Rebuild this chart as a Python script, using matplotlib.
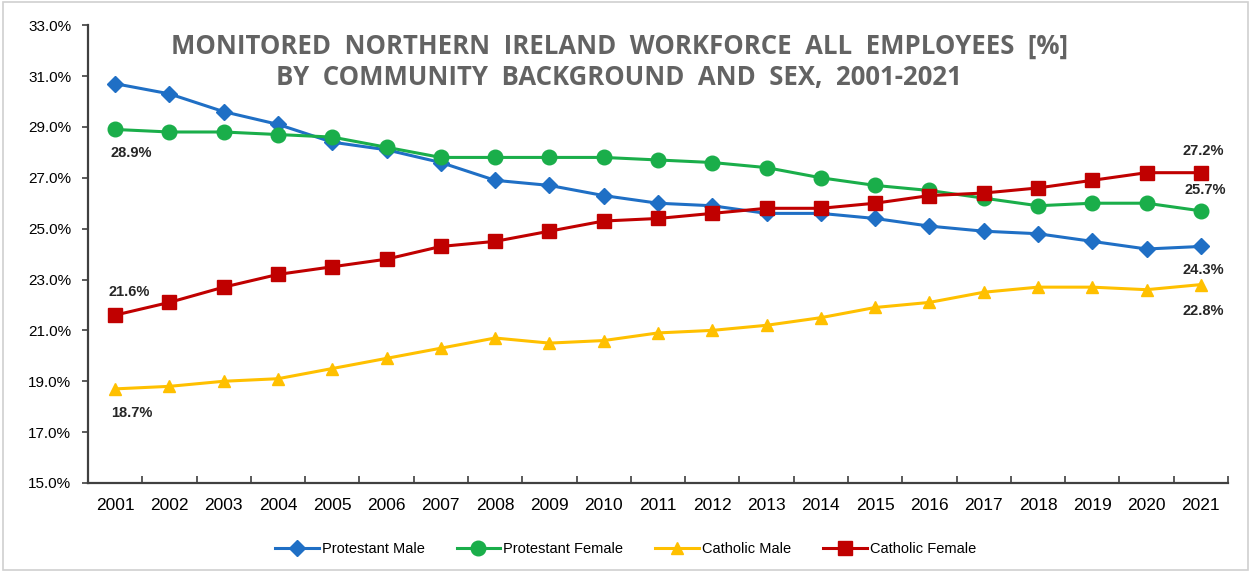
import matplotlib.pyplot as plt
import matplotlib.patches as patches
import numpy as np

years = list(range(2001, 2022))
protestant_male = [30.7, 30.3, 29.6, 29.1, 28.4, 28.1, 27.6, 26.9, 26.7, 26.3, 26.0,
                   25.9, 25.6, 25.6, 25.4, 25.1, 24.9, 24.8, 24.5, 24.2, 24.3]
protestant_female = [28.9, 28.8, 28.8, 28.7, 28.6, 28.2, 27.8, 27.8, 27.8, 27.8, 27.7,
                     27.6, 27.4, 27.0, 26.7, 26.5, 26.2, 25.9, 26.0, 26.0, 25.7]
catholic_male = [18.7, 18.8, 19.0, 19.1, 19.5, 19.9, 20.3, 20.7, 20.5, 20.6, 20.9,
                 21.0, 21.2, 21.5, 21.9, 22.1, 22.5, 22.7, 22.7, 22.6, 22.8]
catholic_female = [21.6, 22.1, 22.7, 23.2, 23.5, 23.8, 24.3, 24.5, 24.9, 25.3, 25.4,
                   25.6, 25.8, 25.8, 26.0, 26.3, 26.4, 26.6, 26.9, 27.2, 27.2]

plt.rcParams['font.family'] = ['Liberation Sans', 'DejaVu Sans']

fig = plt.figure(figsize=(12.51, 5.72), dpi=100)
ax = fig.add_axes([0.0703, 0.1556, 0.9113, 0.8004])
fig.add_artist(patches.Rectangle((0.002, 0.004), 0.996, 0.992, transform=fig.transFigure,
                                 fill=False, edgecolor='#d0d0d0', linewidth=1.2))

x = np.arange(len(years))
series = [
    ('Protestant Male', protestant_male, '#1f6fc5', 'D', 8),
    ('Protestant Female', protestant_female, '#1aae4a', 'o', 10.5),
    ('Catholic Male', catholic_male, '#ffc000', '^', 9),
    ('Catholic Female', catholic_female, '#c00000', 's', 9.5),
]
for name, vals, col, mk, ms in series:
    ax.plot(x, vals, color=col, marker=mk, markersize=ms, linewidth=2.2, label=name)

ax.set_xlim(-0.5, len(years) - 0.5)
ax.set_ylim(15, 33)
ax.set_yticks(np.arange(15, 33.1, 2))
ax.set_yticklabels([f'{v:.1f}%' for v in np.arange(15, 33.1, 2)])
ax.set_xticks(x)
ax.set_xticklabels([str(y) for y in years])
ax.set_xticks(np.arange(-0.5, len(years)), minor=True)
ax.tick_params(axis='x', which='major', length=0, pad=11, labelsize=12.5)
ax.tick_params(axis='x', which='minor', direction='in', length=5, width=1.2, color='#404040')
ax.tick_params(axis='y', length=4, width=1.2, color='#404040', labelsize=11, pad=8)
for s in ['top', 'right']:
    ax.spines[s].set_visible(False)
for s in ['left', 'bottom']:
    ax.spines[s].set_color('#404040')
    ax.spines[s].set_linewidth(1.6)

# data labels at ends
lab = dict(fontsize=10.5, fontweight='bold', color='#262626')
ax.annotate(f'{protestant_female[0]}%', (x[0], protestant_female[0]), xytext=(-3, -20),
            textcoords='offset points', ha='left', **lab)
ax.annotate(f'{catholic_female[0]}%', (x[0], catholic_female[0]), xytext=(-5, 14),
            textcoords='offset points', ha='left', **lab)
ax.annotate(f'{catholic_male[0]}%', (x[0], catholic_male[0]), xytext=(-3, -20),
            textcoords='offset points', ha='left', **lab)
ax.annotate(f'{catholic_female[-1]}%', (x[-1], catholic_female[-1]), xytext=(2, 13),
            textcoords='offset points', ha='center', **lab)
ax.annotate(f'{protestant_female[-1]}%', (x[-1], protestant_female[-1]), xytext=(3, 12),
            textcoords='offset points', ha='center', **lab)
ax.annotate(f'{protestant_male[-1]}%', (x[-1], protestant_male[-1]), xytext=(2, -20),
            textcoords='offset points', ha='center', **lab)
ax.annotate(f'{catholic_male[-1]}%', (x[-1], catholic_male[-1]), xytext=(2, -22),
            textcoords='offset points', ha='center', **lab)

ax.text(0.466, 0.955, 'MONITORED  NORTHERN  IRELAND  WORKFORCE  ALL  EMPLOYEES  [%]',
        transform=ax.transAxes, ha='center', va='center', fontsize=18.5, fontweight='bold',
        color='#636363', family='Open Sans')
ax.text(0.466, 0.885, 'BY  COMMUNITY  BACKGROUND  AND  SEX,  2001-2021',
        transform=ax.transAxes, ha='center', va='center', fontsize=18.5, fontweight='bold',
        color='#636363', family='Open Sans')

fig.legend(loc='lower center', bbox_to_anchor=(0.5, 0.005), ncol=4, frameon=False,
           fontsize=10.5, handlelength=3, columnspacing=2.2, handletextpad=0.2)

fig.savefig('out.png', dpi=100)
